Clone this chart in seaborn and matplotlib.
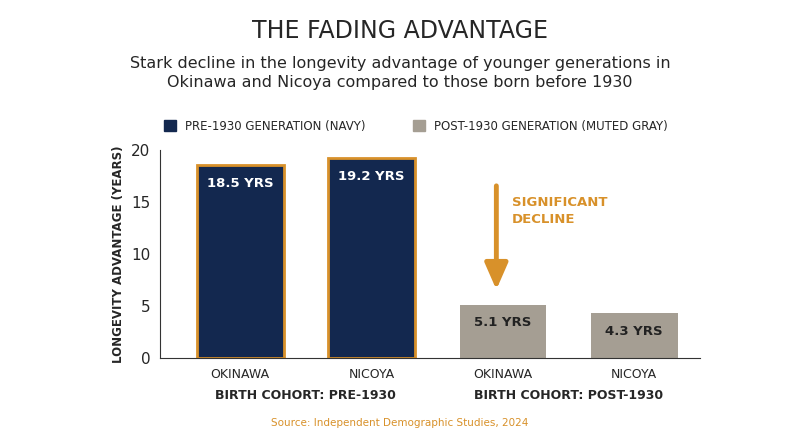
import matplotlib.pyplot as plt
import seaborn as sns
import pandas as pd
from matplotlib.patches import Patch

cohorts = ["PRE-1930", "PRE-1930", "POST-1930", "POST-1930"]
regions = ["OKINAWA", "NICOYA", "OKINAWA", "NICOYA"]
advantage = [18.5, 19.2, 5.1, 4.3]
labels = ["18.5 YRS", "19.2 YRS", "5.1 YRS", "4.3 YRS"]

NAVY = "#13284f"
GRAY = "#a59e93"
ORANGE = "#d8912a"

sns.set_style("white")
plt.rcParams["font.family"] = ["DejaVu Sans"]

df = pd.DataFrame({"slot": range(4), "region": regions, "adv": advantage})

fig = plt.figure(figsize=(8, 4.47), dpi=100)
ax = fig.add_axes([0.2, 0.199, 0.675, 0.466])
sns.barplot(data=df, x="slot", y="adv", hue="slot", palette=[NAVY, NAVY, GRAY, GRAY],
            width=0.66, saturation=1, legend=False, ax=ax)
for i, p in enumerate(ax.patches):
    if i < 2:
        p.set_edgecolor(ORANGE)
        p.set_linewidth(2)
    else:
        p.set_edgecolor(GRAY)
        p.set_linewidth(0)
    ax.text(p.get_x() + p.get_width() / 2, p.get_height() - 1.1, labels[i],
            ha="center", va="top", color="white" if i < 2 else "#222222",
            fontsize=9.5, fontweight="bold")

ax.set_xlim(-0.61, 3.5)
ax.set_ylim(0, 20)
ax.set_yticks([0, 5, 10, 15, 20])
ax.set_xticks(range(4))
ax.set_xticklabels(regions, fontsize=9)
ax.tick_params(axis="y", labelsize=11)
ax.set_xlabel("")
ax.set_ylabel("LONGEVITY ADVANTAGE (YEARS)", fontsize=8.5, fontweight="bold")
sns.despine(ax=ax, top=True, right=True)
ax.spines["left"].set_color("#333333")
ax.spines["bottom"].set_color("#333333")

# group labels
ax.text(0.5, -0.15, "BIRTH COHORT: PRE-1930", transform=ax.get_xaxis_transform(),
        ha="center", va="top", fontsize=9, fontweight="bold")
ax.text(2.5, -0.15, "BIRTH COHORT: POST-1930", transform=ax.get_xaxis_transform(),
        ha="center", va="top", fontsize=9, fontweight="bold")

# decline arrow
ax.annotate("", xy=(1.95, 6.3), xytext=(1.95, 16.8),
            arrowprops=dict(arrowstyle="-|>,head_width=0.7,head_length=1.6",
                            color=ORANGE, lw=3.5))
ax.text(2.07, 14.1, "SIGNIFICANT\nDECLINE", color=ORANGE, fontsize=9.5,
        fontweight="bold", va="center", ha="left", linespacing=1.4)

fig.text(0.5, 0.915, "THE FADING ADVANTAGE", ha="center", fontsize=17)
fig.text(0.5, 0.805, "Stark decline in the longevity advantage of younger generations in\n"
         "Okinawa and Nicoya compared to those born before 1930",
         ha="center", fontsize=11.5, linespacing=1.35)
fig.legend(handles=[Patch(color=NAVY, label="PRE-1930 GENERATION (NAVY)"),
                    Patch(color=GRAY, label="POST-1930 GENERATION (MUTED GRAY)")],
           loc="center", bbox_to_anchor=(0.52, 0.718), ncol=2, frameon=False,
           fontsize=8.5, handlelength=1, handleheight=1, columnspacing=4)
fig.text(0.5, 0.048, "Source: Independent Demographic Studies, 2024",
         ha="center", fontsize=7.5, color=ORANGE)

fig.savefig("out.png", dpi=100, facecolor="white")
